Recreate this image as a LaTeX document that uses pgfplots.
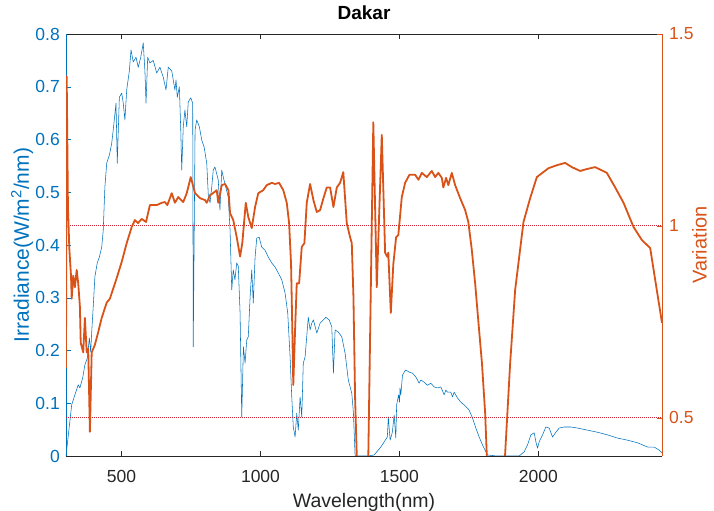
\documentclass[border=0pt]{standalone}
\usepackage{fontspec}
\setmainfont{Liberation Sans}
\usepackage{pgfplots}
\pgfplotsset{compat=1.18}

\definecolor{mblue}{rgb}{0,0.447,0.741}
\definecolor{morange}{rgb}{0.85,0.325,0.098}
\definecolor{mred}{rgb}{0.78,0.12,0.2}
\definecolor{mgray}{rgb}{0.15,0.15,0.15}

\pgfplotsset{
  dakar base/.style={
    scale only axis, width=596bp, height=422bp,
    at={(0,0)}, anchor=south west,
    xmin=300, xmax=2445,
    tick align=inside,
    major tick length=5bp,
    scaled ticks=false,
    /pgf/number format/assume math mode=true,
    /pgf/number format/1000 sep={},
    ticklabel style={font=\fontsize{17.5bp}{21bp}\selectfont},
  }
}

\begin{document}
\begin{tikzpicture}
% left axis: spectral irradiance
\begin{axis}[dakar base,
  axis x line*=box, axis y line*=left,
  ymin=0, ymax=0.8,
  ytick={0,0.1,0.2,0.3,0.4,0.5,0.6,0.7,0.8},
  xtick={500,1000,1500,2000},
  x axis line style={draw=mgray, line width=0.6bp},
  y axis line style={draw=mblue, line width=0.6bp},
  xtick style={draw=mgray}, ytick style={draw=mblue},
  yticklabel style={text=mblue, anchor=east, inner sep=0pt, xshift=-6bp,
    /pgf/number format/fixed, /pgf/number format/precision=1},
  xticklabel style={text=mgray, anchor=base, inner sep=0pt, yshift=-26bp},
  xlabel={Wavelength(nm)},
  xlabel style={at={(axis description cs:0.5,0)}, anchor=base, yshift=-51bp,
    inner sep=0pt, text=mgray, font=\fontsize{19.5bp}{23bp}\selectfont},
  ylabel={Irradiance(W/m\textsuperscript{2}/nm)},
  ylabel style={at={([xshift=-37bp]axis description cs:0,0.5)}, anchor=base,
    inner sep=0pt, text=mblue, font=\fontsize{21bp}{25bp}\selectfont},
  title={Dakar},
  title style={at={(axis description cs:0.5,1)}, anchor=base, yshift=9bp,
    inner sep=0pt, font=\bfseries\fontsize{19bp}{23bp}\selectfont},
]
\addplot[mblue, line width=0.55bp, line join=round] coordinates {
(300,0) (320.5,0.097) (332,0.116) (344,0.135) (350,0.129) (360,0.148)
(368,0.173) (377,0.186) (384,0.224) (389,0.197) (392.5,0.235) (398,0.283)
(404,0.34) (412.5,0.366) (420,0.377) (428.5,0.396) (434,0.428) (440,0.51)
(446.5,0.555) (456,0.57) (464.5,0.593) (470,0.618) (480,0.669) (484.5,0.555)
(492,0.68) (500.5,0.688) (506,0.669) (512,0.637) (518.5,0.694) (528,0.73)
(534,0.77) (542,0.747) (552,0.756) (560,0.737) (569,0.756) (578,0.783)
(584,0.73) (588,0.669) (594,0.756) (602,0.745) (614,0.75) (626.5,0.726)
(638,0.737) (650,0.718) (660,0.694) (668,0.737) (680.5,0.73) (692,0.694)
(696,0.713) (700.5,0.68) (708,0.70) (713,0.618) (716.5,0.542) (722,0.624)
(728,0.656) (734.5,0.624) (740,0.671) (749,0.679) (756,0.669) (758,0.207)
(764.5,0.618) (770.5,0.637) (780,0.624) (788.5,0.599) (797,0.586) (806.5,0.555)
(812.5,0.491) (818.5,0.48) (824.5,0.51) (830,0.542) (836,0.548) (842,0.536)
(848,0.523) (854,0.466) (860.5,0.542) (866,0.529) (875,0.51) (884,0.491)
(890.5,0.428) (896.5,0.315) (902,0.353) (908,0.334) (914.5,0.366) (920,0.36)
(926.5,0.271) (932.5,0.074) (938.5,0.207) (944.5,0.176) (950.5,0.22) (956,0.226)
(962.5,0.30) (968.5,0.353) (974,0.29) (980.5,0.377) (986.5,0.413) (995,0.415)
(1004.5,0.396) (1016.5,0.39) (1028,0.377) (1040.5,0.366) (1052.5,0.358)
(1064,0.347) (1076.5,0.334) (1088.5,0.309) (1098,0.271) (1106.5,0.188)
(1112.5,0.112) (1118,0.055) (1124.5,0.036) (1130.5,0.081) (1136,0.049)
(1142.5,0.112) (1148.5,0.074) (1154,0.176) (1160.5,0.188) (1172,0.263)
(1178.5,0.239) (1184.5,0.252) (1190.5,0.258) (1202.5,0.233) (1214.5,0.252)
(1226.5,0.258) (1235,0.263) (1247,0.258) (1256.5,0.245) (1262.5,0.157)
(1268.5,0.239) (1280,0.235) (1292.5,0.226) (1304.5,0.195) (1316,0.144)
(1328.5,0.119) (1334.5,0.081) (1340.5,0) (1365,0) (1388,0) (1409,0.002)
(1433,0.017) (1456.5,0.036) (1460,0.074) (1466.5,0.03) (1474.5,0.045)
(1481,0.078) (1487,0.034) (1490,0.097) (1497,0.116) (1500.5,0.102) (1502,0.129)
(1505,0.116) (1511,0.153) (1517,0.159) (1523,0.163) (1535,0.159) (1547,0.157)
(1559,0.15) (1571,0.138) (1577,0.144) (1589,0.140) (1601,0.134) (1613,0.138)
(1625,0.131) (1637,0.129) (1649,0.131) (1661,0.116) (1667,0.125) (1673,0.121)
(1685,0.121) (1691,0.112) (1697,0.121) (1709,0.11) (1721,0.102) (1733,0.097)
(1751,0.087) (1763,0.072) (1775,0.053) (1787,0.036) (1799,0.021) (1817,0.002)
(1850,0) (1931,0) (1949,0.008) (1961,0.021) (1973,0.04) (1985,0.044)
(1991,0.027) (1997,0.015) (2003,0.027) (2015,0.04) (2027,0.055) (2039,0.053)
(2051,0.036) (2063,0.045) (2075,0.053) (2093,0.055) (2117,0.055) (2141,0.053)
(2177,0.049) (2213,0.045) (2249,0.04) (2285,0.034) (2321,0.030) (2357,0.025)
(2393,0.017) (2417,0.017) (2435,0.011) (2445,0.006)
};
\end{axis}

% right axis: variation ratio
\begin{axis}[dakar base,
  axis x line=none, axis y line*=right,
  ymin=0.4, ymax=1.5,
  ytick={0.5,1,1.5},
  y axis line style={draw=morange, line width=0.6bp},
  ytick style={draw=morange},
  yticklabel style={text=morange, anchor=west, inner sep=0pt, xshift=7bp},
  ylabel={Variation},
  ylabel style={at={([xshift=30bp]axis description cs:1,0.5)}, anchor=north,
    inner sep=0pt, text=morange, font=\fontsize{20bp}{24bp}\selectfont},
]
% reference levels
\addplot[draw=mred, line width=0.9bp, dash pattern=on 1bp off 1bp] coordinates {(300,1) (2445,1)};
\addplot[draw=mred, line width=0.9bp, dash pattern=on 1bp off 1bp] coordinates {(300,0.5) (2445,0.5)};
\addplot[morange, line width=1.8bp, line join=round] coordinates {
(300,0.63) (302.5,1.39) (307,1.05) (312,0.94) (318,0.87) (320.5,0.81)
(326,0.87) (332,0.84) (338.5,0.885) (344,0.85) (350,0.79) (353,0.695)
(362,0.67) (368,0.76) (374.5,0.67) (380,0.68) (386,0.463) (392.5,0.67)
(404,0.69) (416,0.723) (428.5,0.76) (446.5,0.80) (458,0.81) (482.5,0.864)
(500.5,0.906) (518.5,0.955) (536.5,0.997) (548,1.015) (559,1.007) (572.5,1.018)
(588,1.01) (602,1.054) (626.5,1.054) (644.5,1.06) (656,1.062) (664.7,1.054)
(680.5,1.085) (692,1.06) (704,1.075) (722,1.062) (734.5,1.085) (749,1.127)
(764.5,1.085) (782.5,1.072) (800.5,1.067) (806.5,1.06) (818.5,1.08) (829,1.085)
(842.5,1.093) (848,1.06) (860.5,1.106) (872.5,1.109) (884.5,1.093) (890.5,1.033)
(902,1.015) (914.5,0.97) (926.5,0.92) (934.5,0.955) (947,1.06) (956,1.023)
(968.5,0.994) (980.5,1.049) (992,1.085) (1010,1.093) (1022.5,1.106)
(1040.5,1.112) (1052.5,1.109) (1067,1.112) (1082,1.093) (1094.5,1.06)
(1103,1.007) (1110,0.90) (1114.5,0.73) (1118,0.585) (1124.5,0.73) (1130.5,0.85)
(1139,0.85) (1148.5,0.945) (1158,0.955) (1166.5,1.06) (1178.5,1.109)
(1190.5,1.067) (1202.5,1.036) (1214.5,1.041) (1226.5,1.072) (1238.5,1.10)
(1250.5,1.10) (1262.5,1.049) (1274.5,1.10) (1286.5,1.112) (1298,1.14)
(1310.5,1.007) (1322.5,0.97) (1328.5,0.955) (1334.5,0.815) (1340.5,0.55)
(1346.5,0.40) (1360,0.15) (1380,0.15) (1388,0.40) (1406,1.27) (1418.5,0.84)
(1436.5,1.237) (1448.5,0.93) (1456.5,0.919) (1460,0.93) (1469,0.773) (1478,0.90)
(1488,0.97) (1496,0.976) (1502,1.023) (1508.5,1.075) (1520.5,1.112) (1536,1.133)
(1556.5,1.133) (1568.5,1.12) (1580.5,1.138) (1598.5,1.127) (1616.5,1.143)
(1628.5,1.127) (1640,1.138) (1652.5,1.125) (1658,1.10) (1668,1.125) (1676,1.106)
(1688.5,1.138) (1700.5,1.106) (1718.5,1.072) (1736.5,1.041) (1748,1.01)
(1760.5,0.937) (1772.5,0.85) (1784.5,0.747) (1797,0.642) (1808.5,0.512)
(1814.5,0.40) (1825,0.2) (1865,0.2) (1880,0.40) (1898.5,0.642) (1916.5,0.833)
(1946.5,1.01) (1970.5,1.072) (1994.5,1.127) (2036,1.15) (2066.5,1.158)
(2096.5,1.164) (2120.5,1.153) (2150.5,1.143) (2174.5,1.148) (2204.5,1.153)
(2246.5,1.138) (2276.5,1.10) (2306.5,1.06) (2342.5,0.997) (2372.5,0.963)
(2402.5,0.942) (2420.5,0.859) (2445,0.747)
};
\end{axis}
\pgfresetboundingbox
\path[use as bounding box] (-66bp,-55bp) rectangle (648bp,456bp);
\end{tikzpicture}
\end{document}
